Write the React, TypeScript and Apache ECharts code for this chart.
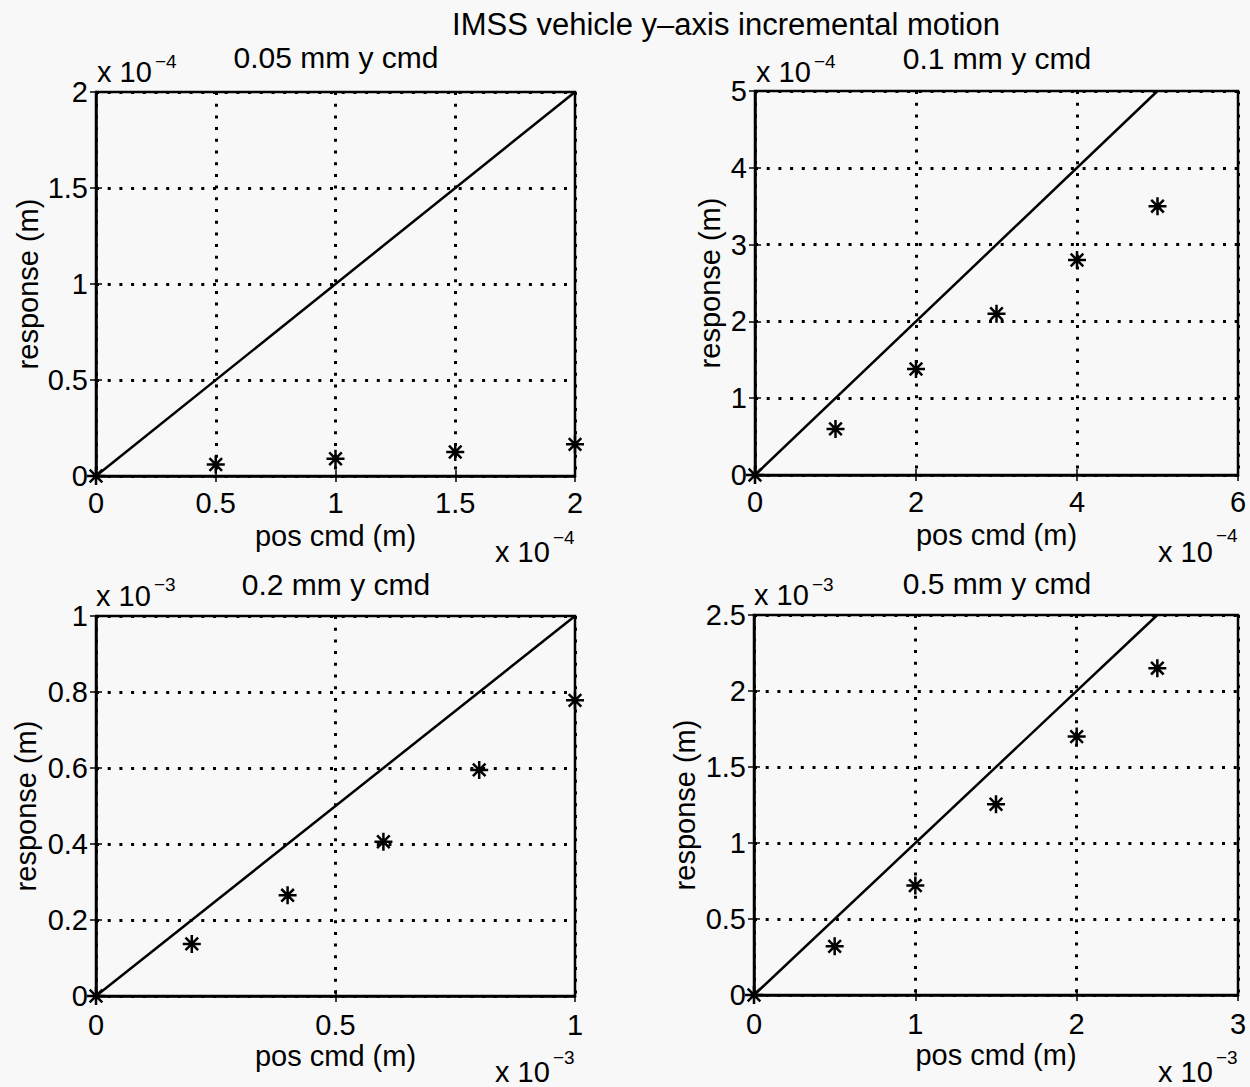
import React, { useEffect, useRef } from "react";
import * as echarts from "echarts";

// ---- data (values in the scaled units shown on the axes) ----
const mainTitle = "IMSS vehicle y–axis incremental motion";
const panelTitles = ["0.05 mm y cmd", "0.1 mm y cmd", "0.2 mm y cmd", "0.5 mm y cmd"];
const xAxisName = "pos cmd (m)";
const yAxisName = "response (m)";
const exponents = ["−4", "−4", "−3", "−3"];

// panel 1 (x 10^-4)
const p1PosCmd = [0, 0.5, 1, 1.5, 2];
const p1Response = [0, 0.06, 0.09, 0.125, 0.165];
const p1Ideal = [0, 2];
const p1XTicks = [0, 2, 0.5];
const p1YTicks = [0, 2, 0.5];

// panel 2 (x 10^-4)
const p2PosCmd = [0, 1, 2, 3, 4, 5];
const p2Response = [0, 0.6, 1.38, 2.1, 2.8, 3.5];
const p2Ideal = [0, 5];
const p2XTicks = [0, 6, 2];
const p2YTicks = [0, 5, 1];

// panel 3 (x 10^-3)
const p3PosCmd = [0, 0.2, 0.4, 0.6, 0.8, 1];
const p3Response = [0, 0.137, 0.265, 0.406, 0.595, 0.778];
const p3Ideal = [0, 1];
const p3XTicks = [0, 1, 0.5];
const p3YTicks = [0, 1, 0.2];

// panel 4 (x 10^-3)
const p4PosCmd = [0, 0.5, 1, 1.5, 2, 2.5];
const p4Response = [0, 0.32, 0.72, 1.255, 1.7, 2.15];
const p4Ideal = [0, 2.5];
const p4XTicks = [0, 3, 1];
const p4YTicks = [0, 2.5, 0.5];

const FONT = '"Liberation Sans", Arial, Helvetica, sans-serif';
const STAR = "path://M0,5L10,5M5,0L5,10M1.5,1.5L8.5,8.5M8.5,1.5L1.5,8.5";

const panels = [
  { pos: p1PosCmd, resp: p1Response, ideal: p1Ideal, xt: p1XTicks, yt: p1YTicks },
  { pos: p2PosCmd, resp: p2Response, ideal: p2Ideal, xt: p2XTicks, yt: p2YTicks },
  { pos: p3PosCmd, resp: p3Response, ideal: p3Ideal, xt: p3XTicks, yt: p3YTicks },
  { pos: p4PosCmd, resp: p4Response, ideal: p4Ideal, xt: p4XTicks, yt: p4YTicks },
];

// layout
const grids = [
  { left: 96, top: 92, width: 479, height: 384 },
  { left: 755, top: 91, width: 483, height: 384 },
  { left: 96, top: 616, width: 479, height: 380 },
  { left: 754, top: 615, width: 484, height: 380 },
];
const yNameGaps = [54, 31, 56, 55];
const xLabelMargins = [12, 12, 14, 14];
const titlePos = [
  [336, 57],
  [997, 58],
  [336, 584],
  [997, 583],
];
const topMult = [
  { x: 97, y: 71.5, sx: 155, sy: 61 },
  { x: 756, y: 72, sx: 814, sy: 61 },
  { x: 96, y: 596, sx: 154, sy: 584 },
  { x: 754, y: 595, sx: 812, sy: 584 },
];
const botMult = [
  { x: 495, y: 551.5, sx: 553, sy: 537 },
  { x: 1158, y: 552, sx: 1216, sy: 535 },
  { x: 495, y: 1072, sx: 553, sy: 1057 },
  { x: 1158, y: 1072, sx: 1216, sy: 1057 },
];

const dotted = { color: "#000", width: 3, type: [3, 8.7] as any };
const tickStyle = { show: true, inside: true, length: 6, lineStyle: { color: "#000", width: 1.5 } };

export default function App() {
  const ref = useRef<HTMLDivElement>(null);
  useEffect(() => {
    if (!ref.current) return;
    const chart = echarts.init(ref.current, undefined, { renderer: "svg" });

    const xAxes: any[] = [];
    const yAxes: any[] = [];
    const series: any[] = [];
    const graphics: any[] = [];

    panels.forEach((p, i) => {
      xAxes.push({
        gridIndex: i,
        type: "value",
        min: p.xt[0],
        max: p.xt[1],
        interval: p.xt[2],
        name: xAxisName,
        nameLocation: "middle",
        nameGap: 45,
        nameTextStyle: { color: "#000", fontSize: 29, fontFamily: FONT },
        axisLine: { show: true, onZero: false, lineStyle: { color: "#000", width: 2.5 } },
        axisTick: tickStyle,
        axisLabel: { color: "#000", fontSize: 29, fontFamily: FONT, margin: xLabelMargins[i] },
        splitLine: { show: true, lineStyle: dotted },
      });
      yAxes.push({
        gridIndex: i,
        type: "value",
        min: p.yt[0],
        max: p.yt[1],
        interval: p.yt[2],
        name: yAxisName,
        nameLocation: "middle",
        nameGap: yNameGaps[i],
        nameTextStyle: { color: "#000", fontSize: 29, fontFamily: FONT },
        axisLine: { show: true, onZero: false, lineStyle: { color: "#000", width: 2.5 } },
        axisTick: tickStyle,
        axisLabel: { color: "#000", fontSize: 29, fontFamily: FONT, margin: 8 },
        splitLine: { show: true, lineStyle: dotted },
      });
      series.push({
        type: "line",
        xAxisIndex: i,
        yAxisIndex: i,
        data: p.ideal.map((v) => [v, v]),
        showSymbol: false,
        symbol: "none",
        clip: false,
        lineStyle: { color: "#000", width: 2.5 },
        z: 3,
      });
      series.push({
        type: "scatter",
        xAxisIndex: i,
        yAxisIndex: i,
        data: p.pos.map((x, k) => [x, p.resp[k]]),
        symbol: STAR,
        symbolSize: 18,
        clip: false,
        itemStyle: { color: "none", borderColor: "#000", borderWidth: 2.5, opacity: 1 },
        z: 4,
      });

      graphics.push({
        type: "text",
        x: titlePos[i][0],
        y: titlePos[i][1],
        style: { text: panelTitles[i], fill: "#000", font: `30px ${FONT}`, align: "center", verticalAlign: "middle" },
      });
      [topMult[i], botMult[i]].forEach((m) => {
        graphics.push({
          type: "text",
          x: m.x,
          y: m.y,
          style: { text: "x 10", fill: "#000", font: `29px ${FONT}`, align: "left", verticalAlign: "middle" },
        });
        graphics.push({
          type: "text",
          x: m.sx,
          y: m.sy,
          style: { text: exponents[i], fill: "#000", font: `19px ${FONT}`, align: "left", verticalAlign: "middle" },
        });
      });
    });

    // secondary axes for MATLAB-style ticks on the top and right edges
    panels.forEach((p, i) => {
      xAxes.push({
        gridIndex: i,
        type: "value",
        position: "top",
        min: p.xt[0],
        max: p.xt[1],
        interval: p.xt[2],
        axisLine: { show: false },
        axisTick: tickStyle,
        axisLabel: { show: false },
        splitLine: { show: false },
      });
      yAxes.push({
        gridIndex: i,
        type: "value",
        position: "right",
        min: p.yt[0],
        max: p.yt[1],
        interval: p.yt[2],
        axisLine: { show: false },
        axisTick: tickStyle,
        axisLabel: { show: false },
        splitLine: { show: false },
      });
    });

    graphics.push({
      type: "text",
      x: 726,
      y: 24,
      style: { text: mainTitle, fill: "#000", font: `31px ${FONT}`, align: "center", verticalAlign: "middle" },
    });

    chart.setOption({
      animation: false,
      backgroundColor: "#f8f8f8",
      grid: grids.map((g) => ({ ...g, show: true, borderColor: "#000", borderWidth: 2.5, backgroundColor: "transparent" })),
      xAxis: xAxes,
      yAxis: yAxes,
      series,
      graphic: graphics,
    });
    return () => chart.dispose();
  }, []);

  return (
    <div
      ref={ref}
      style={{ position: "fixed", left: 0, top: 0, width: 1250, height: 1087 }}
    />
  );
}
